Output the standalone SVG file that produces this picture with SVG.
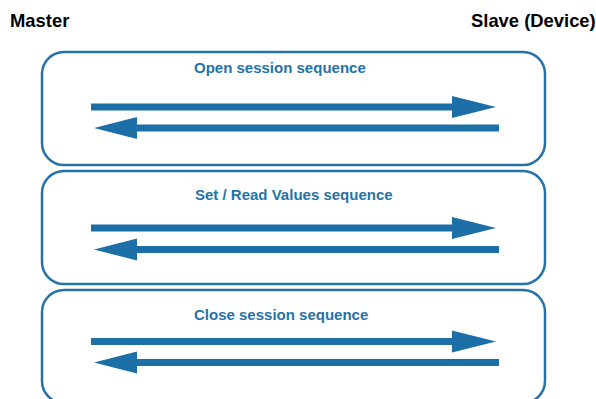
<svg xmlns="http://www.w3.org/2000/svg" width="596" height="399" viewBox="0 0 596 399">
<style>
.box{fill:#ffffff;stroke:#2473a8;stroke-width:2.5}
.title{font-family:"Liberation Sans",Arial,sans-serif;font-weight:bold;font-size:15px;fill:#2473a8}
.head{font-family:"Liberation Sans",Arial,sans-serif;font-weight:bold;font-size:18.4px;fill:#000000}
.arr{fill:#1d6fa8}
</style>
<rect width="596" height="399" fill="#ffffff"/>
<text class="head" x="10" y="27">Master</text>
<text class="head" x="471" y="27">Slave (Device)</text>
<g id="open">
<rect class="box" x="42" y="52" width="503" height="113" rx="22"/>
<text class="title" x="194" y="72.5">Open session sequence</text>
</g>
<g id="setread">
<rect class="box" x="42" y="171" width="503" height="113" rx="22"/>
<text class="title" x="195" y="199.5">Set / Read Values sequence</text>
</g>
<g id="close">
<rect class="box" x="42" y="290" width="503" height="113" rx="22"/>
<text class="title" x="194" y="319.5">Close session sequence</text>
</g>
<g id="connectors">
<polygon class="arr" points="91,103.5 452,103.5 452,96 496,107 452,118 452,110.5 91,110.5"/>
<polygon class="arr" points="499,124.5 137,124.5 137,117 94,128 137,139 137,131.5 499,131.5"/>
<polygon class="arr" points="91,224.5 452,224.5 452,217 496,228 452,239 452,231.5 91,231.5"/>
<polygon class="arr" points="499,246 137,246 137,238.5 94,249.5 137,260.5 137,253 499,253"/>
<polygon class="arr" points="91,338 452,338 452,330.5 496,341.5 452,352.5 452,345 91,345"/>
<polygon class="arr" points="499,359 137,359 137,351.5 94,362.5 137,373.5 137,366 499,366"/>
</g>
</svg>
